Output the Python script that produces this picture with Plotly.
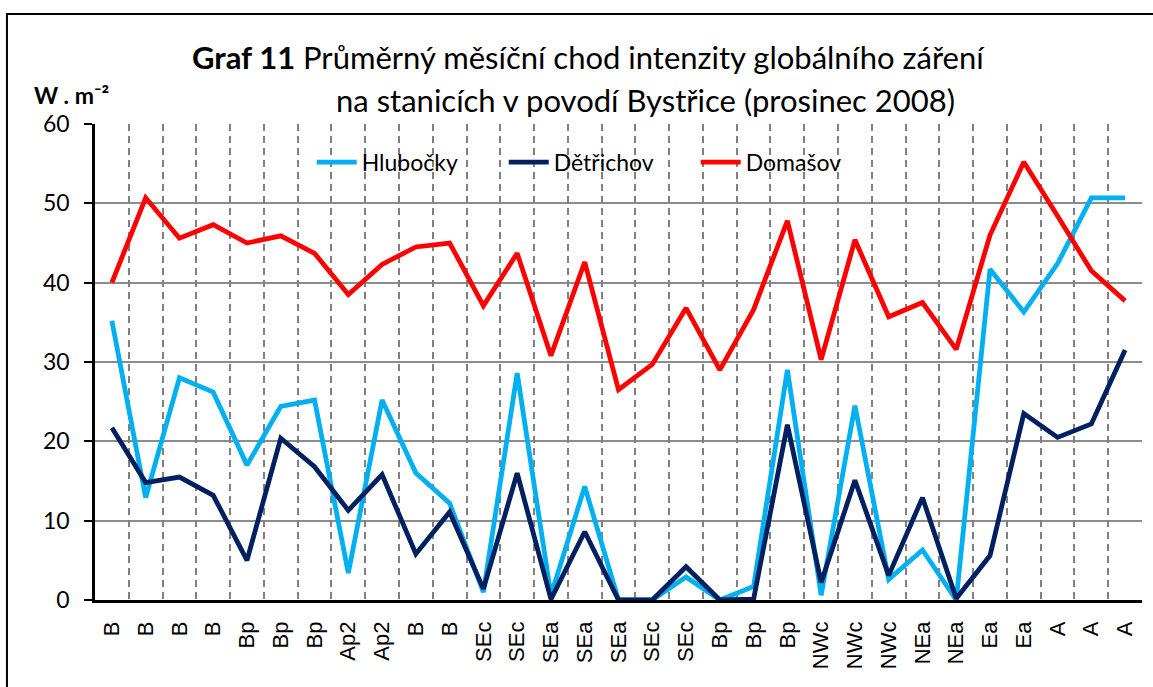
import plotly.graph_objects as go

categories = ["B", "B", "B", "B", "Bp", "Bp", "Bp", "Ap2", "Ap2", "B", "B",
              "SEc", "SEc", "SEa", "SEa", "SEa", "SEc", "SEc", "Bp", "Bp", "Bp",
              "NWc", "NWc", "NWc", "NEa", "NEa", "Ea", "Ea", "A", "A", "A"]

hlubocky = [35.2, 12.9, 28.0, 26.2, 17.0, 24.4, 25.2, 3.4, 25.2, 16.0, 12.2,
            1.0, 28.6, 0.6, 14.3, 0.0, 0.0, 2.9, 0.0, 1.7, 29.0,
            0.6, 24.5, 2.6, 6.3, 0.0, 41.7, 36.3, 42.4, 50.7, 50.7]

detrichov = [21.7, 14.8, 15.5, 13.2, 5.0, 20.4, 16.8, 11.3, 15.8, 5.8, 11.1,
             1.4, 16.0, 0.1, 8.6, 0.0, 0.0, 4.2, 0.0, 0.1, 22.1,
             2.2, 15.1, 3.1, 12.9, 0.2, 5.6, 23.5, 20.5, 22.2, 31.5]

domasov = [40.0, 50.7, 45.6, 47.3, 45.0, 45.9, 43.7, 38.5, 42.3, 44.5, 45.0,
           37.1, 43.7, 30.8, 42.6, 26.5, 29.7, 36.8, 29.0, 36.6, 47.8,
           30.3, 45.4, 35.7, 37.5, 31.6, 46.0, 55.2, 48.4, 41.5, 37.7]

series = [("Hlubočky", hlubocky, "#00B0F0"),
          ("Dětřichov", detrichov, "#002060"),
          ("Domašov", domasov, "#FF0000")]

y_ticks = [0, 10, 20, 30, 40, 50, 60]

idx = list(range(len(categories)))
bounds = [i + 0.5 for i in idx]

fig = go.Figure()

# invisible helper trace for the boundary grid axis
fig.add_trace(go.Scatter(x=[bounds[0]], y=[None], xaxis="x2", yaxis="y",
                         showlegend=False, hoverinfo="skip", mode="lines"))

for name, vals, color in series:
    fig.add_trace(go.Scatter(x=idx, y=vals, name=name, mode="lines",
                             line=dict(color=color, width=4.8)))

CAL = "Lato, 'Open Sans', sans-serif"

fig.update_layout(
    width=1153, height=687,
    margin=dict(l=95, r=11, t=124, b=87),
    paper_bgcolor="white", plot_bgcolor="white",
    font=dict(family=CAL, color="black"),
    xaxis=dict(range=[-0.5, len(categories) - 0.5], tickmode="array",
               tickvals=idx, ticktext=categories, tickangle=-90,
               tickfont=dict(family="Liberation Sans, Arial, sans-serif", size=22, color="black"),
               showgrid=False, zeroline=False, showline=True, linecolor="black",
               linewidth=2.5, ticks="", ticklabelstandoff=10),
    xaxis2=dict(range=[-0.5, len(categories) - 0.5], overlaying="x", side="bottom",
                tickmode="array", tickvals=bounds, showticklabels=False,
                showgrid=True, gridcolor="#808080", gridwidth=1.5,
                griddash="7px,5px", zeroline=False, showline=False, ticks=""),
    yaxis=dict(range=[0, 60], tickmode="array", tickvals=y_ticks,
               tickfont=dict(family=CAL, size=23, color="black"),
               showgrid=True, gridcolor="#8C8C8C", gridwidth=1.5,
               zeroline=False, showline=True, linecolor="black", linewidth=2.5,
               ticks="outside", ticklen=8, tickcolor="black", tickwidth=1.5,
               ticklabelstandoff=10),
    legend=dict(orientation="h", x=0.207, y=0.92, xanchor="left", yanchor="middle",
                font=dict(family=CAL, size=23, color="black"),
                bgcolor="rgba(0,0,0,0)", entrywidth=137, entrywidthmode="pixels",
                itemwidth=40),
    showlegend=True,
)

fig.add_annotation(xref="paper", yref="paper", x=0.4709, y=1.1408,
                   text="<b>Graf 11</b> Průměrný měsíční chod intenzity globálního záření",
                   showarrow=False, xanchor="center", yanchor="middle",
                   font=dict(family=CAL, size=31, color="black"))
fig.add_annotation(xref="paper", yref="paper", x=0.5258, y=1.0504,
                   text="na stanicích v povodí Bystřice (prosinec 2008)",
                   showarrow=False, xanchor="center", yanchor="middle",
                   font=dict(family=CAL, size=31, color="black"))
fig.add_annotation(xref="paper", yref="paper", x=-0.0229, y=1.06,
                   text="<b>W . m⁻²</b>", showarrow=False,
                   xanchor="center", yanchor="middle",
                   font=dict(family=CAL, size=23, color="black"))

fig.add_shape(type="rect", xref="paper", yref="paper",
              x0=-0.0841, x1=1.0172, y0=-0.21, y1=1.2311,
              line=dict(color="black", width=2), fillcolor="rgba(0,0,0,0)", layer="above")

fig.write_html("out.html", config={"displayModeBar": False},
               post_script="document.body.style.margin='0';document.body.style.overflow='hidden';")
